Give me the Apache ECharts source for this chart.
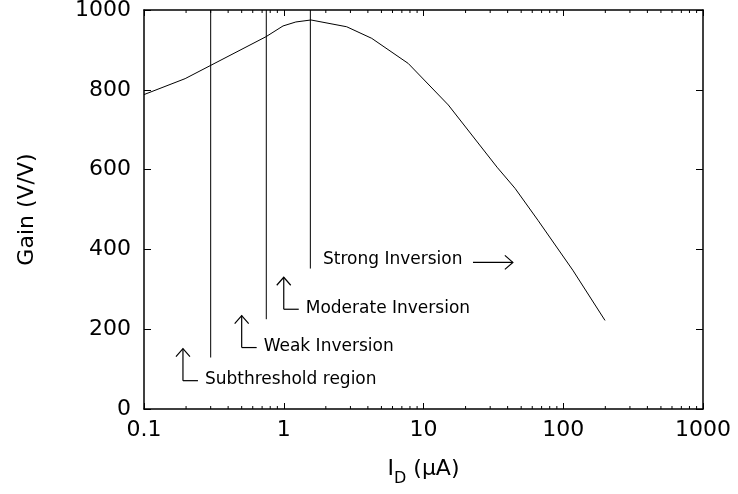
<!DOCTYPE html>
<html>
<head>
<meta charset="utf-8">
<script src="https://cdn.jsdelivr.net/npm/echarts@6/dist/echarts.min.js"></script>
<style>
  html, body { margin: 0; padding: 0; background: #fff; }
  #main { width: 738px; height: 494px; }
</style>
</head>
<body>
<div id="main"></div>
<script>
// gain curve
var curveX = [0.1, 0.197, 0.746, 0.988, 1.22, 1.566, 2.82, 4.26, 7.78, 15.05, 33.6, 45.2, 65.9, 117, 199];
var curveY = [788, 828, 933, 960, 970, 975, 958, 929, 866, 762, 606, 553, 473, 348, 222];

// region boundaries (vertical lines from bottomY up to the top)
var boundX = [0.3, 0.75, 1.55];
var boundBottomY = [129, 225, 352];

// annotations with an L-shaped up arrow
var annoLabels = ['Subthreshold region', 'Weak Inversion', 'Moderate Inversion'];
var annoX = [0.19, 0.5, 1.0];
var annoY = [71, 154, 250];

// "Strong Inversion" with an arrow pointing right
var strongLabel = 'Strong Inversion';
var strongX = 1.91, strongY = 375;
var strongArrowX = [22.6, 43.6];

var xTickLabels = ['0.1', '1', '10', '100', '1000'];
var yTickLabels = ['0', '200', '400', '600', '800', '1000'];
var xMinorTicks = [0.2, 0.3, 0.4, 0.5, 0.6, 0.7, 0.8, 0.9,
                   2, 3, 4, 5, 6, 7, 8, 9,
                   20, 30, 40, 50, 60, 70, 80, 90,
                   200, 300, 400, 500, 600, 700, 800, 900];

var font = 'DejaVu Sans';
var black = '#000';

var chart = echarts.init(document.getElementById('main'));

var series = [];

series.push({
    type: 'line',
    xAxisIndex: 0, yAxisIndex: 0,
    data: curveX.map(function (x, i) { return [x, curveY[i]]; }),
    symbol: 'none',
    lineStyle: { color: black, width: 1 },
    silent: true
});

boundX.forEach(function (x, i) {
    series.push({
        type: 'line',
        xAxisIndex: 0, yAxisIndex: 0,
        data: [[x, boundBottomY[i]], [x, 1000]],
        symbol: 'none',
        lineStyle: { color: black, width: 1 },
        silent: true
    });
});

// minor ticks on top and bottom (2..9 of each decade)
series.push({
    type: 'custom',
    xAxisIndex: 0, yAxisIndex: 0,
    clip: false,
    silent: true,
    data: xMinorTicks.map(function (v) { return [v, 0]; }),
    renderItem: function (params, api) {
        var b = api.coord([api.value(0), 0]);
        var t = api.coord([api.value(0), 1000]);
        var st = { stroke: black, lineWidth: 1 };
        return {
            type: 'group',
            children: [
                { type: 'line', shape: { x1: b[0], y1: b[1], x2: b[0], y2: b[1] - 3 }, style: st },
                { type: 'line', shape: { x1: t[0], y1: t[1], x2: t[0], y2: t[1] + 3 }, style: st }
            ]
        };
    }
});

// L-shaped arrows with labels
series.push({
    type: 'custom',
    xAxisIndex: 0, yAxisIndex: 0,
    clip: false,
    silent: true,
    data: annoX.map(function (x, i) { return [x, annoY[i]]; }),
    renderItem: function (params, api) {
        var i = params.dataIndex;
        var p = api.coord([api.value(0), api.value(1)]);
        var x = p[0], y = p[1];
        var st = { stroke: black, lineWidth: 1.2, fill: null };
        return {
            type: 'group',
            children: [
                { type: 'line', shape: { x1: x, y1: y - 32, x2: x, y2: y }, style: st },
                { type: 'polyline', shape: { points: [[x - 7, y - 24], [x, y - 32], [x + 7, y - 24]] }, style: st },
                { type: 'line', shape: { x1: x, y1: y, x2: x + 15, y2: y }, style: st },
                { type: 'text', x: x + 22, y: y - 1,
                  style: { text: annoLabels[i], fontSize: 17, fontFamily: font, fill: black,
                           align: 'left', verticalAlign: 'middle' } }
            ]
        };
    }
});

series.push({
    type: 'custom',
    xAxisIndex: 0, yAxisIndex: 0,
    clip: false,
    silent: true,
    data: [[strongX, strongY, strongArrowX[0], strongArrowX[1]]],
    renderItem: function (params, api) {
        var p = api.coord([api.value(0), api.value(1)]);
        var a0 = api.coord([api.value(2), api.value(1)]);
        var a1 = api.coord([api.value(3), api.value(1)]);
        var ay = p[1] + 3;
        var st = { stroke: black, lineWidth: 1.2, fill: null };
        return {
            type: 'group',
            children: [
                { type: 'text', x: p[0], y: p[1],
                  style: { text: strongLabel, fontSize: 17, fontFamily: font, fill: black,
                           align: 'left', verticalAlign: 'middle' } },
                { type: 'line', shape: { x1: a0[0], y1: ay, x2: a1[0], y2: ay }, style: st },
                { type: 'polyline', shape: { points: [[a1[0] - 8, ay - 7], [a1[0], ay], [a1[0] - 8, ay + 7]] }, style: st }
            ]
        };
    }
});

var xAxisBase = {
    type: 'log',
    logBase: 10,
    min: 0.1,
    max: 1000,
    gridIndex: 0,
    axisLine: { show: true, onZero: false, lineStyle: { color: black, width: 1.5 } },
    axisTick: { show: true, inside: true, length: 6, lineStyle: { color: black, width: 1 } },
    splitLine: { show: false },
    minorTick: { show: false }
};

var yAxisBase = {
    type: 'value',
    min: 0,
    max: 1000,
    interval: 200,
    gridIndex: 0,
    axisLine: { show: true, onZero: false, lineStyle: { color: black, width: 1.5 } },
    axisTick: { show: true, inside: true, length: 7, lineStyle: { color: black, width: 1 } },
    splitLine: { show: false }
};

var option = {
    animation: false,
    backgroundColor: '#fff',
    grid: {
        left: 144, right: 35, top: 10, bottom: 85,
        containLabel: false,
        outerBoundsMode: 'none'
    },
    xAxis: [
        Object.assign({}, xAxisBase, {
            position: 'bottom',
            axisLabel: {
                fontSize: 22, fontFamily: font, color: black, margin: 10,
                formatter: function (v) {
                    return xTickLabels[Math.round(Math.log10(v)) + 1];
                }
            },
            name: '{i|I}{d|D}{i| (µA)}',
            nameLocation: 'middle',
            nameGap: 49,
            nameTextStyle: {
                fontFamily: font, color: black,
                rich: {
                    i: { fontSize: 22, fontFamily: font, color: black, lineHeight: 24, verticalAlign: 'top' },
                    d: { fontSize: 16, fontFamily: font, color: black, lineHeight: 18, padding: [13, 0, 0, 0], verticalAlign: 'top' }
                }
            }
        }),
        Object.assign({}, xAxisBase, {
            position: 'top',
            axisLabel: { show: false }
        })
    ],
    yAxis: [
        Object.assign({}, yAxisBase, {
            position: 'left',
            axisLabel: {
                fontSize: 22, fontFamily: font, color: black, margin: 13,
                formatter: function (v) { return yTickLabels[Math.round(v / 200)]; }
            },
            name: 'Gain (V/V)',
            nameLocation: 'middle',
            nameGap: 106,
            nameTextStyle: { fontSize: 22, fontFamily: font, color: black }
        }),
        Object.assign({}, yAxisBase, {
            position: 'right',
            axisLabel: { show: false }
        })
    ],
    series: series
};

chart.setOption(option);
window.onresize = chart.resize;
</script>
</body>
</html>
